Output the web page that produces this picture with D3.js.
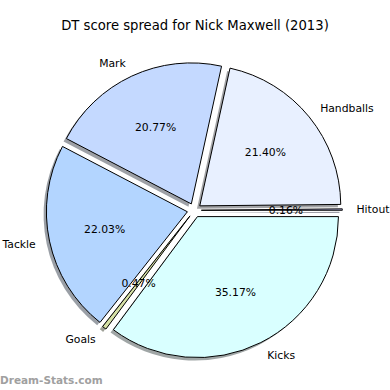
<!DOCTYPE html>
<html><head><meta charset="utf-8">
<script src="https://cdn.jsdelivr.net/npm/d3@7"></script>
<style>body{margin:0;background:#fff}svg{display:block}text{font-family:"DejaVu Sans",sans-serif}</style>
</head><body><div id="chart"></div>
<script>
const title = "DT score spread for Nick Maxwell (2013)";
const categories = ["Hitout", "Handballs", "Mark", "Tackle", "Goals", "Kicks"];
const values = [0.16, 21.40, 20.77, 22.03, 0.47, 35.17];
const colors = ["#ccccff", "#e8f0ff", "#c4d9ff", "#b3d5ff", "#d6e1a6", "#d9ffff"];
const watermark = "Dream-Stats.com";

const W = 390, H = 390;
const cx = 194.3, cy = 210.3, R = 141, explode = 0.05;

const svg = d3.select("#chart").append("svg").attr("width", W).attr("height", H);

svg.append("text").attr("x", W/2).attr("y", 30).attr("text-anchor", "middle")
  .attr("font-size", 13.2).attr("fill", "#000").text(title);

const pie = d3.pie().sort(null).value(d => d)
  .startAngle(Math.PI/2).endAngle(Math.PI/2 - 2*Math.PI);
const arcs = pie(values);
const arc = d3.arc().innerRadius(0).outerRadius(R);

function offs(a, k) {
  const m = (a.startAngle + a.endAngle) / 2;
  return [Math.sin(m) * k, -Math.cos(m) * k];
}

const g = svg.append("g").attr("transform", `translate(${cx},${cy})`);

// shadows
g.selectAll("path.sh").data(arcs).enter().append("path").attr("class", "sh")
  .attr("d", arc)
  .attr("transform", d => { const o = offs(d, explode*R); return `translate(${o[0]-0.02*R},${o[1]+0.02*R})`; })
  .attr("fill", (d, i) => { const c = d3.rgb(colors[i]); return d3.rgb(c.r*0.3, c.g*0.3, c.b*0.3); })
  .attr("fill-opacity", 0.5);

// wedges
g.selectAll("path.w").data(arcs).enter().append("path").attr("class", "w")
  .attr("d", arc)
  .attr("transform", d => { const o = offs(d, explode*R); return `translate(${o[0]},${o[1]})`; })
  .attr("fill", (d, i) => colors[i]).attr("stroke", "#000").attr("stroke-width", 1)
  .attr("stroke-linejoin", "miter");

// labels
g.selectAll("text.lb").data(arcs).enter().append("text").attr("class", "lb")
  .each(function(d, i) {
    const o = offs(d, explode*R), p = offs(d, 1.1*R);
    const x = o[0] + p[0], y = o[1] + p[1];
    d3.select(this).attr("x", x).attr("y", y).attr("dy", "0.35em")
      .attr("text-anchor", p[0] > 0 ? "start" : "end")
      .attr("font-size", 10.8).text(categories[i]);
  });

// percentages
g.selectAll("text.pc").data(arcs).enter().append("text").attr("class", "pc")
  .each(function(d, i) {
    const o = offs(d, explode*R), p = offs(d, 0.6*R);
    d3.select(this).attr("x", o[0] + p[0]).attr("y", o[1] + p[1]).attr("dy", "0.35em")
      .attr("text-anchor", "middle").attr("font-size", 10.8)
      .text(d3.format(".2f")(values[i]) + "%");
  });

svg.append("text").attr("x", 0).attr("y", 384).attr("font-size", 10.5)
  .attr("font-weight", "bold").attr("fill", "#a0a0a0").text(watermark);
</script></body></html>
